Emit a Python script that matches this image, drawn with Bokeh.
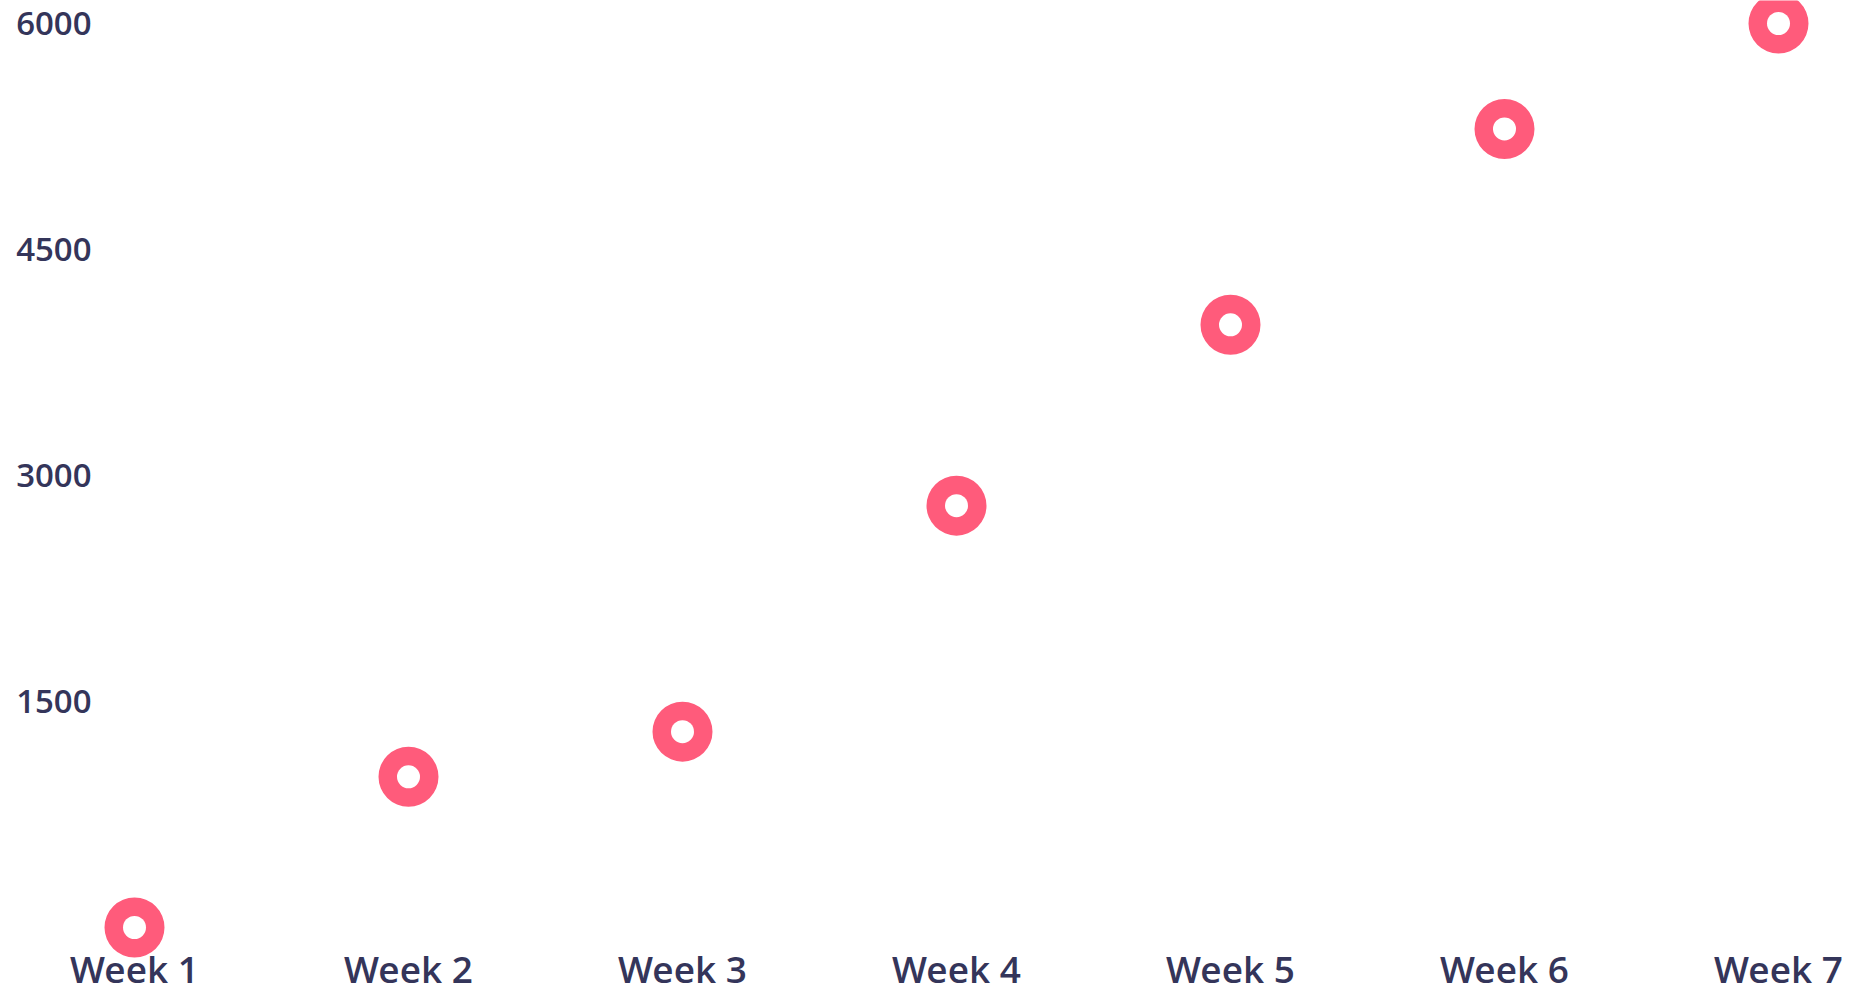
from bokeh.plotting import figure
from bokeh.models import Range1d, FixedTicker
from bokeh.embed import file_html
from bokeh.resources import INLINE

# ---- data ----
weeks = ["Week 1", "Week 2", "Week 3", "Week 4", "Week 5", "Week 6", "Week 7"]
signups = [0, 1000, 1300, 2800, 4000, 5300, 6000]
y_ticks = [1500, 3000, 4500, 6000]

PINK = "#FF5B7B"
TEXT = "#34355A"

positions = list(range(1, len(weeks) + 1))

p = figure(
    width=1866, height=996,
    output_backend="svg", toolbar_location=None,
    x_range=Range1d(0.87591, 7.32117),
    y_range=Range1d(-457.96, 6152.65),
    min_border_left=100, min_border_right=0,
    min_border_top=0, min_border_bottom=0,
)
p.outline_line_color = None
p.grid.visible = False
p.background_fill_color = "white"
p.border_fill_color = "white"

# outer ring and inner hole
p.scatter(x=positions, y=signups, size=60, fill_color=PINK, line_color=None)
p.scatter(x=positions, y=signups, size=23, fill_color="white", line_color=None)

for ax in (p.xaxis, p.yaxis):
    ax.axis_line_color = None
    ax.major_tick_line_color = None
    ax.minor_tick_line_color = None
    ax.major_label_text_color = TEXT
    ax.major_label_text_font = "Open Sans SemiBold"
    ax.major_label_text_font_style = "normal"

p.xaxis.ticker = FixedTicker(ticks=positions)
p.xaxis.major_label_overrides = {i: w for i, w in zip(positions, weeks)}
p.xaxis.major_label_text_font_size = "37px"
p.xaxis.major_label_standoff = -60

p.yaxis.ticker = FixedTicker(ticks=y_ticks)
p.yaxis.major_label_text_font_size = "33px"
p.yaxis.major_label_standoff = 3

open("out.html", "w").write(file_html(p, INLINE))
